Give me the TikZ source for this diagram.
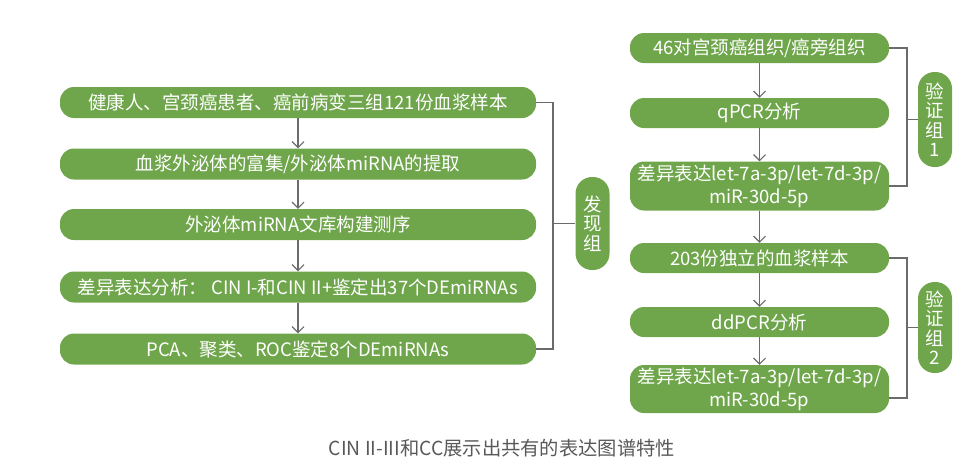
\documentclass[tikz,border=0pt]{standalone}
\usepackage{fontspec}
\setmainfont{Noto Sans CJK SC}
\usetikzlibrary{arrows.meta}
\definecolor{boxgreen}{HTML}{6FA64B}
\definecolor{linegray}{HTML}{6B6B6B}
\definecolor{capgray}{HTML}{595959}
\begin{document}
\begin{tikzpicture}[x=1pt,y=-1pt,
  stepbox/.style={fill=boxgreen, text=white, rounded corners=14pt, inner sep=0pt,
    font=\fontsize{18.5}{23}\selectfont, align=center},
  leftbox/.style={stepbox, minimum width=476pt, minimum height=31pt},
  rightbox/.style={stepbox, minimum width=259pt, minimum height=30pt},
  pill/.style={fill=boxgreen, text=white, rounded corners=16.5pt, inner sep=0pt,
    minimum width=34pt, font=\fontsize{18.5}{19.5}\selectfont, align=center},
  flow/.style={draw=linegray, line width=1.1pt, -{Straight Barb[length=6pt,width=12pt]}},
  brace/.style={draw=linegray, line width=1.1pt}]
\useasboundingbox (0,0) rectangle (960,464);

% left column
\node[leftbox] (l1) at (298,102.5) {健康人、宫颈癌患者、癌前病变三组121份血浆样本};
\node[leftbox] (l2) at (298,164) {血浆外泌体的富集/外泌体miRNA的提取};
\node[leftbox] (l3) at (298,224.5) {外泌体miRNA文库构建测序};
\node[leftbox] (l4) at (298,287) {差异表达分析：\ CIN I-和CIN II+鉴定出37个DEmiRNAs};
\node[leftbox] (l5) at (298,349) {PCA、聚类、ROC鉴定8个DEmiRNAs};
\draw[flow] (l1) -- (l2);
\draw[flow] (l2) -- (l3);
\draw[flow] (l3) -- (l4);
\draw[flow] (l4) -- (l5);

\node[pill, minimum height=93pt] (pF) at (592.5,223.5) {发\\现\\组};
\coordinate (bL) at (553,223.5);
\draw[brace] (l1.east) -| (bL) |- (l5.east);
\draw[brace] (bL) -- (pF.west);

% right column
\node[rightbox] (rA) at (759.5,48) {46对宫颈癌组织/癌旁组织};
\node[rightbox] (rB) at (759.5,113) {qPCR分析};
\node[rightbox, minimum height=49pt] (rC) at (759.5,186) {差异表达let-7a-3p/let-7d-3p/\\miR-30d-5p};
\node[rightbox] (rD) at (759.5,258) {203份独立的血浆样本};
\node[rightbox] (rE) at (759.5,322) {ddPCR分析};
\node[rightbox, minimum height=48pt] (rF) at (759.5,389) {差异表达let-7a-3p/let-7d-3p/\\miR-30d-5p};
\draw[flow] (rA) -- (rB);
\draw[flow] (rB) -- (rC);
\draw[flow] (rC) -- (rD);
\draw[flow] (rD) -- (rE);
\draw[flow] (rE) -- (rF);

\node[pill, minimum height=95pt] (p1) at (935,119.5) {验\\证\\组\\1};
\node[pill, minimum height=91pt] (p2) at (935,327.5) {验\\证\\组\\2};
\coordinate (b1) at (907,119.5);
\coordinate (b2) at (907,327.5);
\coordinate (rFb) at ([yshift=-9pt]rF.east);
\draw[brace] (rA.east) -| (b1) |- (rC.east);
\draw[brace] (b1) -- (p1.west);
\draw[brace] (rD.east) -| (b2) |- (rFb);
\draw[brace] (b2) -- (p2.west);

% caption
\node[text=capgray, font=\fontsize{19.3}{21}\selectfont] (cap) at (502,448) {CIN II-III和CC展示出共有的表达图谱特性};
\end{tikzpicture}
\end{document}
